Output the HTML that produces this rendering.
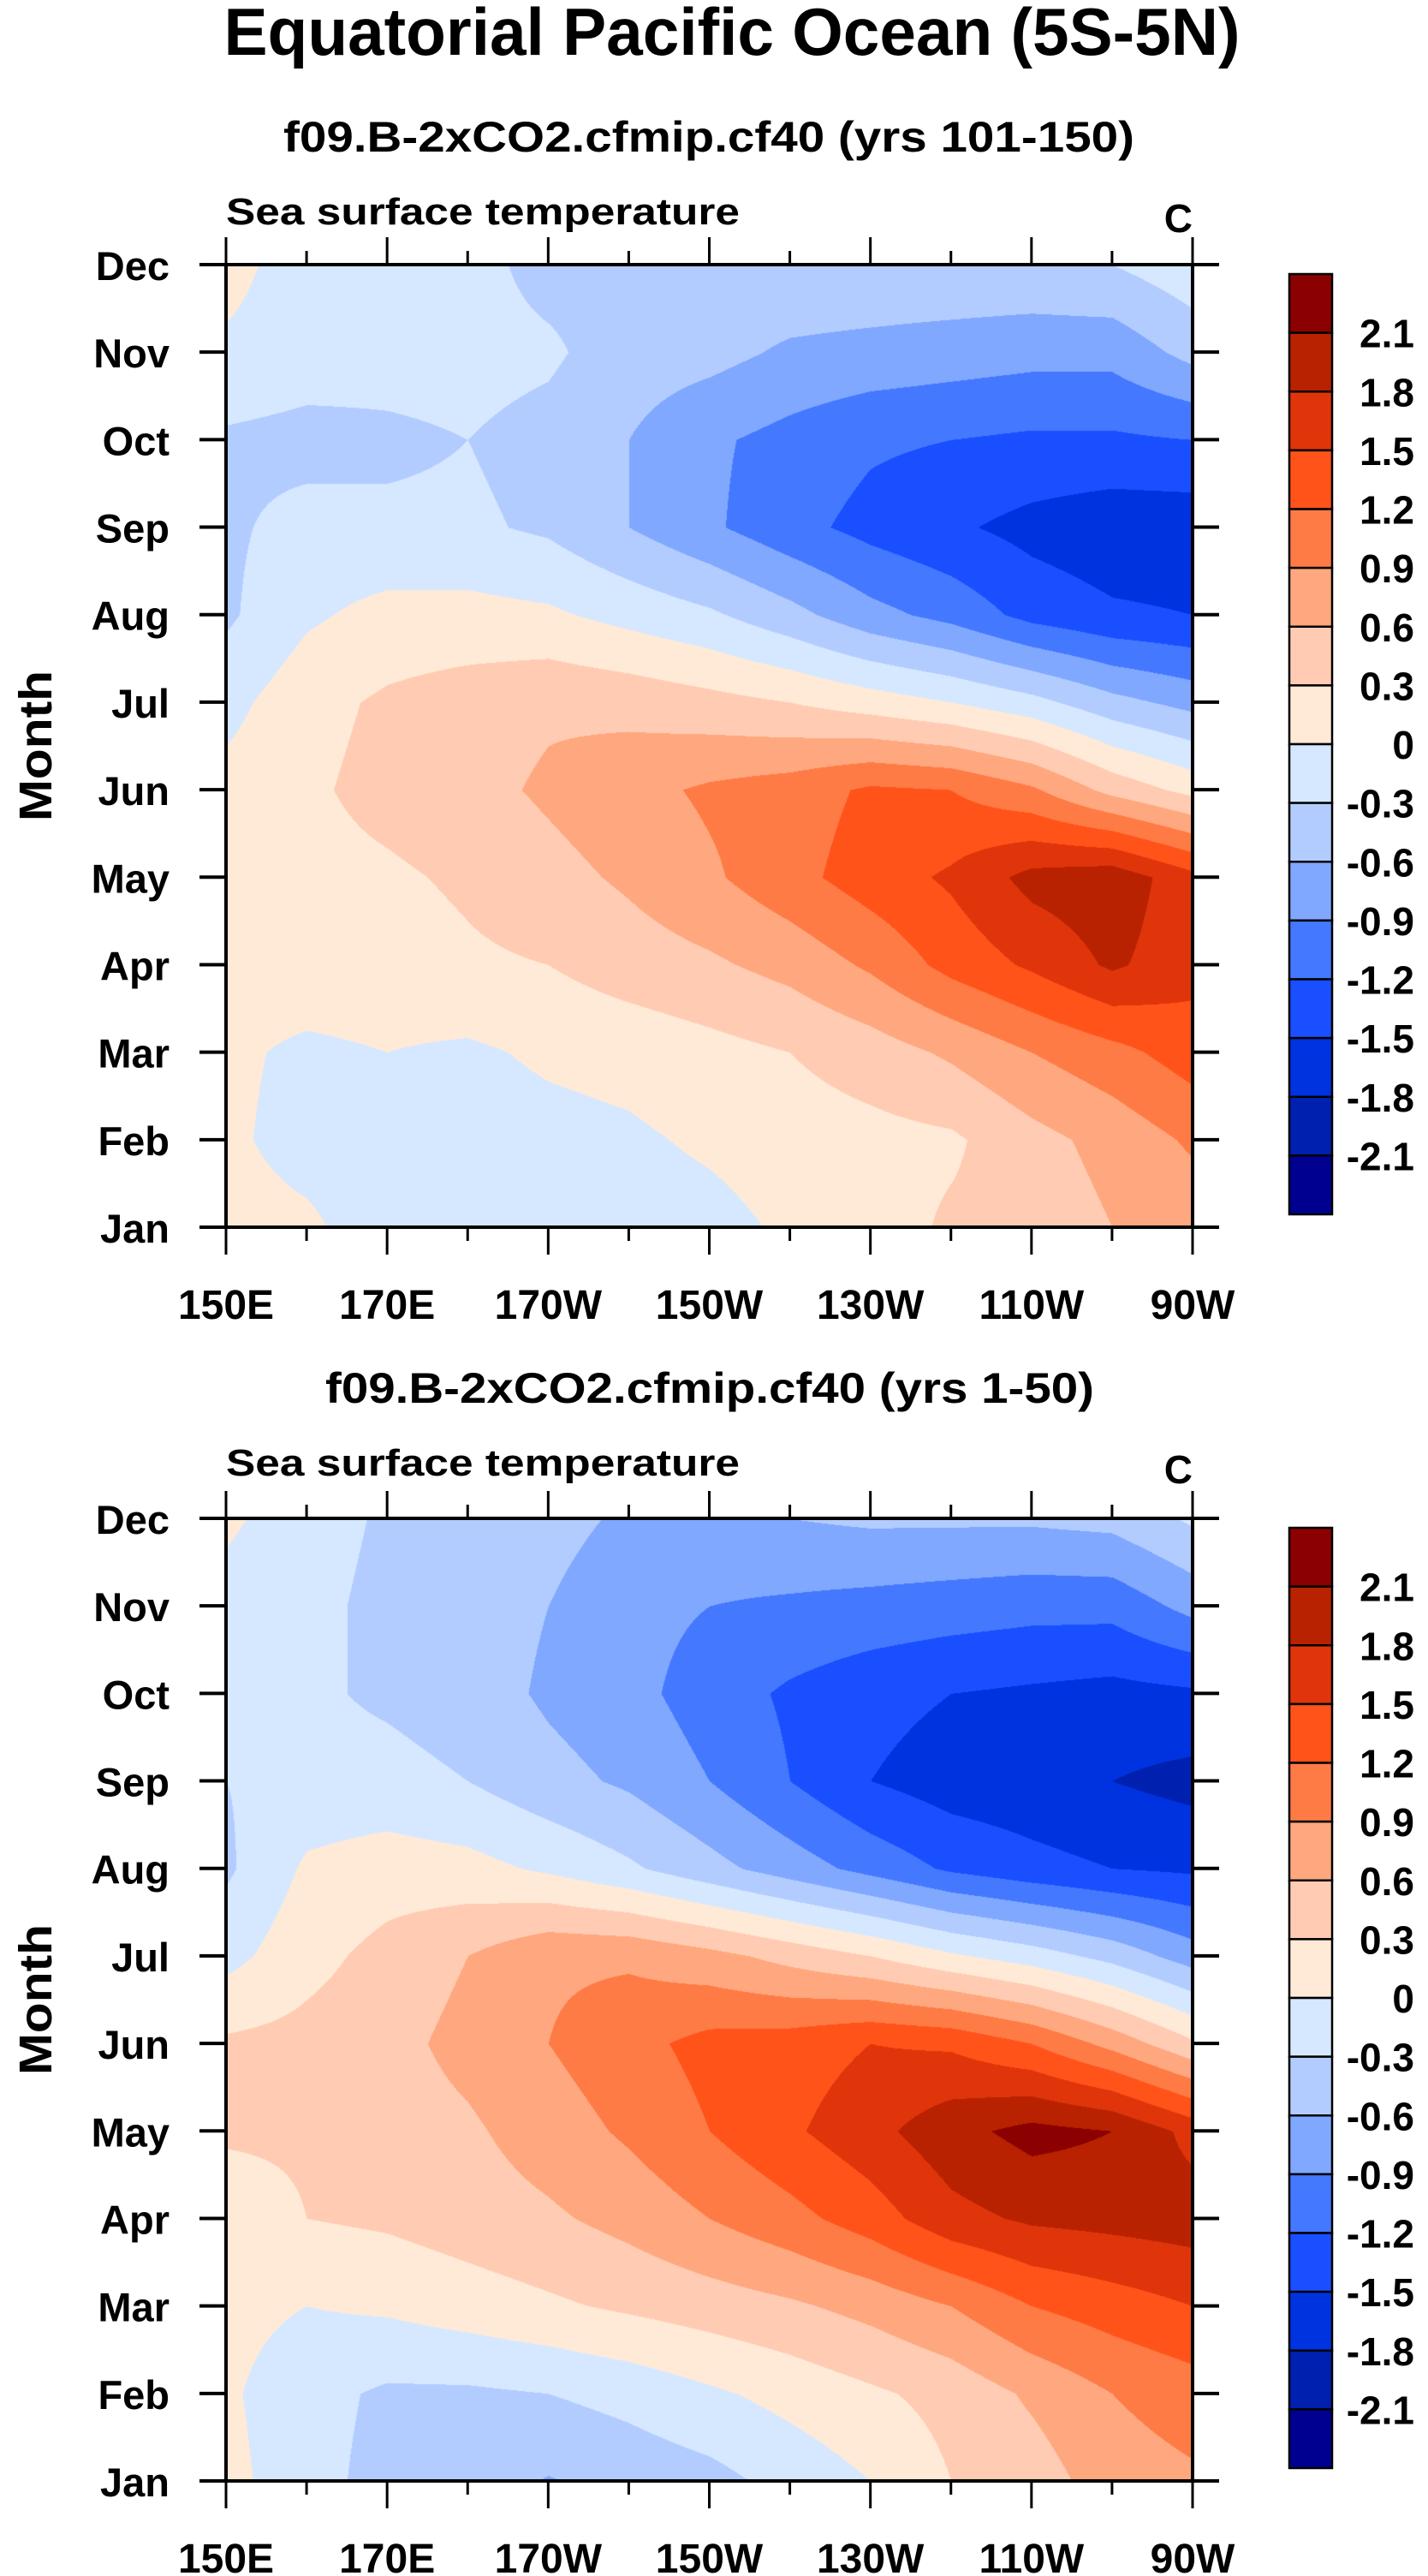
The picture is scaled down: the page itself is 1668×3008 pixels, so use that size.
<!DOCTYPE html>
<html><head><meta charset="utf-8"><style>
html,body{margin:0;padding:0;background:#fff;}
#wrap{position:relative;width:1668px;height:3008px;overflow:hidden;}
canvas{position:absolute;}
svg{position:absolute;left:0;top:0;}
text{font-family:"Liberation Sans",sans-serif;font-weight:bold;fill:#000;}
</style></head><body>
<div id="wrap">
<canvas id="c1"></canvas>
<canvas id="c2"></canvas>
<svg id="svg" width="1668" height="3008">
<text x="855" y="64" font-size="78" text-anchor="middle" textLength="1187" lengthAdjust="spacingAndGlyphs">Equatorial Pacific Ocean (5S-5N)</text>
<text x="828" y="177" font-size="50" text-anchor="middle" textLength="994" lengthAdjust="spacingAndGlyphs">f09.B-2xCO2.cfmip.cf40 (yrs 101-150)</text>
<text x="829" y="1638" font-size="50" text-anchor="middle" textLength="898" lengthAdjust="spacingAndGlyphs">f09.B-2xCO2.cfmip.cf40 (yrs 1-50)</text>
<text x="264" y="262" font-size="44" textLength="600" lengthAdjust="spacingAndGlyphs">Sea surface temperature</text>
<text x="1393" y="271" font-size="46" text-anchor="end">C</text>
<text x="264" y="1723" font-size="44" textLength="600" lengthAdjust="spacingAndGlyphs">Sea surface temperature</text>
<text x="1393" y="1732" font-size="46" text-anchor="end">C</text>
<text transform="translate(60,871) rotate(-90)" font-size="54" text-anchor="middle" textLength="176" lengthAdjust="spacingAndGlyphs">Month</text>
<text transform="translate(60,2335) rotate(-90)" font-size="54" text-anchor="middle" textLength="176" lengthAdjust="spacingAndGlyphs">Month</text>
</svg>
</div>
<script>
const lons = [150,160,170,180,190,200,210,220,230,240,250,260,270];
const months = ["Jan","Feb","Mar","Apr","May","Jun","Jul","Aug","Sep","Oct","Nov","Dec"];
const xTickLabels = ["150E","170E","170W","150W","130W","110W","90W"];
const xTickLons = [150,170,190,210,230,250,270];
const levels = [-2.1,-1.8,-1.5,-1.2,-0.9,-0.6,-0.3,0,0.3,0.6,0.9,1.2,1.5,1.8,2.1];
const levelLabels = ["-2.1","-1.8","-1.5","-1.2","-0.9","-0.6","-0.3","0","0.3","0.6","0.9","1.2","1.5","1.8","2.1"];
const colors = ['#000090','#0020b0','#0033e0','#1a4fff','#4479ff','#80a8ff','#b3ccff','#d6e8ff','#ffead7','#ffccb3','#ffa880','#ff7b45','#ff5319','#e0350a','#b82200','#8b0000'];
// top panel (yrs 101-150), rows Jan..Dec, columns lons
const sstTop = [
[0.1,0.05,-0.15,-0.3,-0.2,-0.15,-0.1,0.05,0.15,0.35,0.4,0.6,0.7],
[0.05,-0.1,-0.15,-0.15,-0.1,-0.05,0.05,0.15,0.2,0.25,0.5,0.7,0.95],
[0.05,-0.05,0.0,-0.05,0.05,0.1,0.2,0.3,0.45,0.65,0.9,1.1,1.35],
[0.1,0.15,0.15,0.25,0.3,0.45,0.55,0.7,0.95,1.3,1.55,1.85,1.6],
[0.3,0.2,0.25,0.35,0.5,0.65,0.85,1.1,1.35,1.55,1.9,2.0,1.6],
[0.1,0.25,0.4,0.5,0.65,0.8,0.95,1.05,1.25,1.2,0.95,0.5,0.2],
[-0.1,0.2,0.35,0.45,0.55,0.5,0.4,0.3,0.15,0.0,-0.2,-0.5,-0.7],
[-0.35,-0.05,0.1,0.1,0.05,-0.1,-0.25,-0.5,-0.8,-1.0,-1.3,-1.45,-1.5],
[-0.35,-0.2,-0.25,-0.25,-0.35,-0.6,-0.85,-1.1,-1.3,-1.45,-1.6,-1.7,-1.7],
[-0.35,-0.4,-0.35,-0.3,-0.4,-0.6,-0.85,-1.0,-1.15,-1.2,-1.25,-1.25,-1.2],
[-0.05,-0.15,-0.2,-0.2,-0.25,-0.45,-0.5,-0.65,-0.7,-0.75,-0.8,-0.8,-0.5],
[0.1,-0.15,-0.15,-0.2,-0.4,-0.4,-0.4,-0.35,-0.35,-0.35,-0.35,-0.3,-0.1]
];
// bottom panel (yrs 1-50)
const sstBottom = [
[0.1,-0.2,-0.4,-0.45,-0.62,-0.5,-0.4,-0.2,0.0,0.3,0.45,0.75,0.85],
[0.05,-0.2,-0.35,-0.35,-0.3,-0.2,-0.05,0.1,0.25,0.4,0.65,0.9,1.05],
[0.1,0.0,0.05,0.15,0.25,0.35,0.45,0.55,0.7,0.9,1.2,1.35,1.5],
[0.1,0.3,0.35,0.45,0.55,0.7,0.9,1.1,1.35,1.7,1.85,1.9,1.95],
[0.35,0.35,0.45,0.55,0.75,0.95,1.2,1.45,1.7,2.0,2.2,2.1,1.7],
[0.35,0.4,0.5,0.7,0.9,1.1,1.3,1.35,1.5,1.45,1.2,0.8,0.35],
[-0.1,0.2,0.4,0.6,0.85,0.85,0.7,0.5,0.3,0.05,-0.15,-0.4,-0.75],
[-0.35,0.05,0.15,0.1,-0.05,-0.25,-0.5,-0.75,-1.0,-1.25,-1.4,-1.5,-1.55],
[-0.3,-0.2,-0.2,-0.3,-0.5,-0.65,-0.9,-1.2,-1.5,-1.65,-1.7,-1.8,-1.9],
[-0.15,-0.25,-0.35,-0.45,-0.65,-0.8,-1.05,-1.25,-1.4,-1.5,-1.55,-1.6,-1.55],
[-0.1,-0.2,-0.4,-0.45,-0.6,-0.8,-0.9,-0.95,-1.0,-1.05,-1.1,-1.1,-0.8],
[0.05,-0.15,-0.35,-0.4,-0.5,-0.65,-0.7,-0.6,-0.55,-0.55,-0.55,-0.5,-0.25]
];
const NS = "http://www.w3.org/2000/svg";
const svg = document.getElementById('svg');
const PL = 264, PR = 1393;
const panels = [{top:309,bot:1433,data:sstTop,cv:'c1',cbTop:320,name:'top'},{top:1773,bot:2897,data:sstBottom,cv:'c2',cbTop:1784,name:'bottom'}];
function colorIndex(v){let i=0;while(i<levels.length && v>=levels[i])i++;return i;}
function hex(c){return [parseInt(c.substr(1,2),16),parseInt(c.substr(3,2),16),parseInt(c.substr(5,2),16)];}
const rgb = colors.map(hex);
function line(x1,y1,x2,y2,w,name){
  const l=document.createElementNS(NS,'line');
  l.setAttribute('x1',x1);l.setAttribute('y1',y1);l.setAttribute('x2',x2);l.setAttribute('y2',y2);
  l.setAttribute('stroke','#000');l.setAttribute('stroke-width',w);
  
  
  svg.appendChild(l);return l;}
function txt(x,y,s,size,anchor,name){
  const t=document.createElementNS(NS,'text');
  t.setAttribute('x',x);t.setAttribute('y',y);t.setAttribute('font-size',size);t.setAttribute('text-anchor',anchor);
  t.textContent=s;
  
  
  svg.appendChild(t);return t;}
panels.forEach(p=>{
  const W=PR-PL, H=p.bot-p.top;
  const xScale = lon => PL + (lon-lons[0])/(lons[lons.length-1]-lons[0])*W;
  const yScale = m => p.bot - m/(months.length-1)*H;
  const cv=document.getElementById(p.cv);
  cv.width=W;cv.height=H;cv.style.left=PL+'px';cv.style.top=p.top+'px';
  const ctx=cv.getContext('2d');const img=ctx.createImageData(W,H);
  const nx=lons.length-1, ny=months.length-1;
  for(let py=0;py<H;py++){
    const fy=(H-py)/H*ny; let j=Math.min(Math.floor(fy),ny-1); const ty=fy-j;
    for(let px=0;px<W;px++){
      const fx=px/W*nx; let i=Math.min(Math.floor(fx),nx-1); const tx=fx-i;
      const d=p.data;
      const v=(d[j][i]*(1-tx)+d[j][i+1]*tx)*(1-ty)+(d[j+1][i]*(1-tx)+d[j+1][i+1]*tx)*ty;
      const c=rgb[colorIndex(v)];const k=(py*W+px)*4;
      img.data[k]=c[0];img.data[k+1]=c[1];img.data[k+2]=c[2];img.data[k+3]=255;
    }
  }
  ctx.putImageData(img,0,0);
  const r=document.createElementNS(NS,'rect');
  r.setAttribute('x',PL);r.setAttribute('y',p.top);r.setAttribute('width',W);r.setAttribute('height',H);
  r.setAttribute('fill','none');r.setAttribute('stroke','#000');r.setAttribute('stroke-width',4);
  
  
  svg.appendChild(r);
  for(let lon=150;lon<=270;lon+=10){
    const x=xScale(lon); const major=((lon-150)%20===0); const L=major?32:16;
    line(x,p.top,x,p.top-L,3,'x-tick-top');
    line(x,p.bot,x,p.bot+L,3,'x-tick-bottom');
  }
  xTickLons.forEach((lon,k)=>{ txt(xScale(lon),p.bot+107,xTickLabels[k],48,'middle','x-tick-label'); });
  months.forEach((m,k)=>{
    const y=yScale(k);
    line(PL,y,PL-31,y,4,'y-tick-left');
    line(PR,y,PR+31,y,4,'y-tick-right');
    txt(198,y+18,m,47,'end','y-tick-label');
  });
  const cbX=1506, cbW=50, cbH=1098, bh=cbH/colors.length;
  for(let k=0;k<colors.length;k++){
    const b=document.createElementNS(NS,'rect');
    b.setAttribute('x',cbX);b.setAttribute('y',p.cbTop+k*bh);b.setAttribute('width',cbW);b.setAttribute('height',bh);
    b.setAttribute('fill',colors[colors.length-1-k]);b.setAttribute('stroke','#000');b.setAttribute('stroke-width',2.5);
    
    
    svg.appendChild(b);
  }
  for(let k=0;k<levels.length;k++){
    const y=p.cbTop+(k+1)*bh;
    txt(1652,y+17,levelLabels[levels.length-1-k],46,'end','colorbar-label');
  }
});
</script>
</body></html>
